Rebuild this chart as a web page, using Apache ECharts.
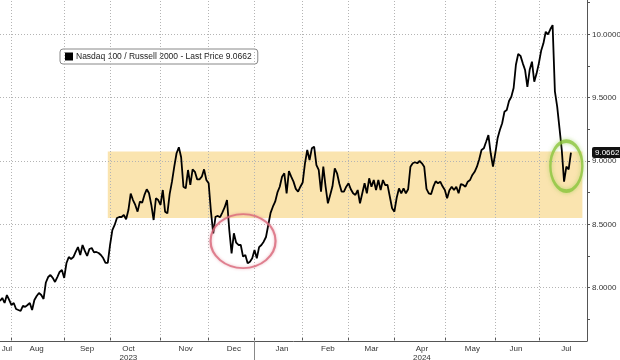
<!DOCTYPE html>
<html>
<head>
<meta charset="utf-8">
<script src="https://cdn.jsdelivr.net/npm/echarts@6/dist/echarts.min.js"></script>
<style>html,body{margin:0;padding:0;background:#fff}#chart{width:620px;height:360px}</style>
</head>
<body>
<div id="chart"></div>
<script>
// Trading days shown on the (trading-day based) x axis
const tradingDays = {
  '2023-07': [25,26,27,28,31],
  '2023-08': [1,2,3,4,7,8,9,10,11,14,15,16,17,18,21,22,23,24,25,28,29,30,31],
  '2023-09': [1,5,6,7,8,11,12,13,14,15,18,19,20,21,22,25,26,27,28,29],
  '2023-10': [2,3,4,5,6,9,10,11,12,13,16,17,18,19,20,23,24,25,26,27,30,31],
  '2023-11': [1,2,3,6,7,8,9,10,13,14,15,16,17,20,21,22,24,27,28,29,30],
  '2023-12': [1,4,5,6,7,8,11,12,13,14,15,18,19,20,21,22,26,27,28,29],
  '2024-01': [2,3,4,5,8,9,10,11,12,16,17,18,19,22,23,24,25,26,29,30,31],
  '2024-02': [1,2,5,6,7,8,9,12,13,14,15,16,20,21,22,23,26,27,28,29],
  '2024-03': [1,4,5,6,7,8,11,12,13,14,15,18,19,20,21,22,25,26,27,28],
  '2024-04': [1,2,3,4,5,8,9,10,11,12,15,16,17,18,19,22,23,24,25,26,29,30],
  '2024-05': [1,2,3,6,7,8,9,10,13,14,15,16,17,20,21,22,23,24,28,29,30,31],
  '2024-06': [3,4,5,6,7,10,11,12,13,14,17,18,20,21,24,25,26,27,28],
  '2024-07': [1,2,3,5,8,9,10,11,12,15,16,17,18,19,22,23,24,25,26,29,30,31]
};

// Nasdaq 100 / Russell 2000 ratio, one value per trading day from 2023-07-25
const ratio = [
  7.895,7.919,7.879,7.942,7.903,7.863,7.879,7.832,7.824,7.816,
  7.856,7.848,7.863,7.879,7.824,7.903,7.934,7.958,7.942,7.911,
  8.041,8.084,8.100,8.077,8.045,8.084,8.124,8.139,8.077,8.195,
  8.242,8.226,8.242,8.282,8.321,8.258,8.337,8.290,8.250,8.305,
  8.313,8.278,8.282,8.274,8.258,8.234,8.195,8.195,8.337,8.455,
  8.495,8.550,8.558,8.558,8.574,8.540,8.613,8.742,8.692,8.653,
  8.600,8.679,8.671,8.732,8.777,8.745,8.653,8.534,8.706,8.692,
  8.653,8.771,8.600,8.587,8.740,8.837,8.955,9.061,9.108,9.030,
  8.797,8.784,8.929,8.811,8.934,8.915,8.855,8.855,8.876,8.934,
  8.850,8.824,8.600,8.429,8.560,8.566,8.556,8.595,8.635,8.692,
  8.455,8.271,8.429,8.355,8.337,8.337,8.245,8.258,8.192,8.205,
  8.232,8.297,8.232,8.320,8.337,8.363,8.400,8.495,8.590,8.639,
  8.679,8.752,8.797,8.876,8.903,8.745,8.920,8.876,8.837,8.780,
  8.758,8.797,8.830,8.982,9.087,9.008,9.100,9.113,8.968,8.929,
  8.758,8.955,8.797,8.666,8.732,8.800,8.942,8.903,8.820,8.758,
  8.758,8.797,8.824,8.777,8.745,8.732,8.771,8.666,8.745,8.824,
  8.745,8.863,8.797,8.850,8.771,8.850,8.771,8.850,8.810,8.811,
  8.720,8.627,8.600,8.710,8.784,8.745,8.784,8.745,8.777,8.955,
  8.982,8.990,8.982,9.000,8.982,8.955,8.780,8.745,8.738,8.797,
  8.840,8.824,8.837,8.800,8.771,8.706,8.770,8.797,8.771,8.797,
  8.745,8.818,8.811,8.797,8.837,8.850,8.890,8.915,8.955,9.014,
  9.087,9.100,9.152,9.205,9.061,8.955,9.060,9.179,9.245,9.298,
  9.389,9.403,9.474,9.507,9.576,9.760,9.845,9.830,9.771,9.718,
  9.586,9.720,9.784,9.626,9.690,9.771,9.870,9.929,10.020,10.000,
  10.040,10.073,9.550,9.430,9.260,9.087,8.837,8.955,8.934,9.0662
];

const seriesName = 'Nasdaq 100 / Russell 2000 - Last Price 9.0662';
const lastPrice = 9.0662;

// x axis: month boundaries (gridlines) and month labels
const monthStarts = ['2023-08-01','2023-09-01','2023-10-02','2023-11-01','2023-12-01','2024-01-02',
  '2024-02-01','2024-03-01','2024-04-01','2024-05-01','2024-06-03','2024-07-01'];
const monthLabelDates = ['2023-07-28','2023-08-16','2023-09-18','2023-10-12','2023-11-16','2023-12-18',
  '2024-01-19','2024-02-16','2024-03-15','2024-04-17','2024-05-17','2024-06-14','2024-07-18'];
const monthLabelTexts = ['Jul','Aug','Sep','Oct','Nov','Dec','Jan','Feb','Mar','Apr','May','Jun','Jul'];
const yearLabelDates = ['2023-10-12','2024-04-17'];
const yearLabelTexts = ['2023','2024'];
const yearSeparator = '2024-01-02';

// y axis
const yTickLabels = [8.0, 8.5, 9.0, 9.5, 10.0];
const yTicks = [7.75, 8.0, 8.25, 8.5, 8.75, 9.0, 9.25, 9.5, 9.75, 10.0, 10.25];
const yMin = 7.579, yMax = 10.271;

// highlighted range band
const bandFrom = '2023-09-29', bandTo = '2024-07-29';
const bandLow = 8.55, bandHigh = 9.075;

// annotation ellipse centres
const redCircleAt = ['2023-12-22', 8.368];
const greenCircleAt = ['2024-07-18', 8.96];

const categories = Object.entries(tradingDays).flatMap(([m, ds]) =>
  ds.map(d => m + '-' + String(d).padStart(2, '0')));

const FONT = 'Liberation Sans';
const gridLineStyle = { color: '#b4b4b4', width: 1, type: [1, 2] };

const chart = echarts.init(document.getElementById('chart'), null, { renderer: 'canvas' });
chart.setOption({
  animation: false,
  backgroundColor: '#ffffff',
  textStyle: { fontFamily: FONT },
  grid: { left: 0, right: 33, top: 0, bottom: 19, containLabel: false, outerBoundsMode: 'none' },
  legend: {
    data: [seriesName], left: 60, top: 49, padding: [3, 6, 3, 5], itemGap: 0,
    itemWidth: 8, itemHeight: 8, icon: 'rect', selectedMode: false,
    backgroundColor: '#ffffff', borderColor: '#888', borderWidth: 1, borderRadius: 3,
    textStyle: { fontSize: 8.5, color: '#222', fontFamily: FONT, padding: [0, 0, 0, -2] }
  },
  xAxis: [{
    type: 'category', data: categories, boundaryGap: false, position: 'bottom',
    axisLine: { show: true, lineStyle: { color: '#555', width: 1 } },
    axisTick: { show: true, inside: true, length: 3, lineStyle: { color: '#555' },
      interval: (i, v) => monthStarts.includes(v) },
    axisLabel: {
      show: true, margin: 3, fontSize: 8, color: '#333', lineHeight: 9,
      interval: (i, v) => monthLabelDates.includes(v),
      formatter: v => {
        const k = monthLabelDates.indexOf(v);
        const y = yearLabelDates.indexOf(v);
        return monthLabelTexts[k] + (y >= 0 ? '\n' + yearLabelTexts[y] : '');
      }
    },
    splitLine: { show: false }
  }, {
    type: 'category', data: categories, boundaryGap: false, position: 'bottom',
    axisLine: { show: false },
    axisTick: { show: true, inside: false, length: 19, lineStyle: { color: '#888' },
      interval: (i, v) => v === yearSeparator },
    axisLabel: { show: false }, splitLine: { show: false }
  }],
  yAxis: {
    type: 'value', position: 'right', min: yMin, max: yMax,
    axisLine: { show: true, lineStyle: { color: '#555', width: 1 } },
    axisTick: { show: true, length: 3, customValues: yTicks, lineStyle: { color: '#555' } },
    axisLabel: {
      margin: 5, fontSize: 8, color: '#333',
      customValues: [...yTickLabels, lastPrice],
      formatter: v => Math.abs(v - lastPrice) < 1e-9 ? '{tag|' + lastPrice.toFixed(4) + '}' : v.toFixed(4),
      rich: { tag: { backgroundColor: '#111', color: '#fff', fontSize: 8, padding: [2, 3, 1, 3], borderRadius: 2 } }
    },
    splitLine: { show: false }
  },
  series: [{
    name: seriesName, type: 'line', data: ratio, z: 10,
    showSymbol: false, symbol: 'none', smooth: false,
    lineStyle: { color: '#000', width: 1.8 }, itemStyle: { color: '#000' },
    markArea: {
      silent: true,
      itemStyle: { color: 'rgba(246,206,110,0.55)' },
      data: [[{ xAxis: bandFrom, yAxis: bandLow }, { xAxis: bandTo, yAxis: bandHigh }]]
    },
    markLine: {
      silent: true, symbol: 'none', label: { show: false }, lineStyle: gridLineStyle,
      data: [...yTickLabels.map(v => ({ yAxis: v })), ...monthStarts.map(d => ({ xAxis: d }))]
    }
  }, {
    name: 'red', type: 'scatter', z: 12, silent: true,
    data: [redCircleAt], symbol: 'circle', symbolSize: [65, 54],
    itemStyle: { color: 'rgba(0,0,0,0)', borderColor: '#d9687a', borderWidth: 2, shadowBlur: 3, shadowColor: 'rgba(217,104,122,0.6)' }
  }, {
    name: 'green', type: 'scatter', z: 12, silent: true,
    data: [greenCircleAt], symbol: 'circle', symbolSize: [32, 50],
    itemStyle: { color: 'rgba(0,0,0,0)', borderColor: '#8cc63f', borderWidth: 3, shadowBlur: 4, shadowColor: 'rgba(140,198,63,0.7)' }
  }]
});
</script>
</body>
</html>
